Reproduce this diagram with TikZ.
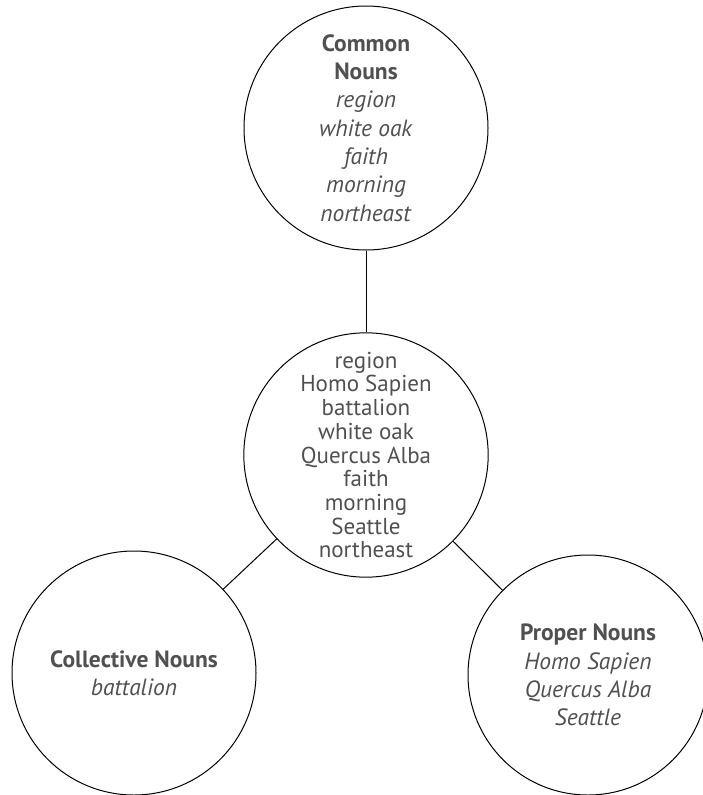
\documentclass[tikz,border=0pt]{standalone}
\usepackage{fontspec}
\setmainfont{PT Sans}
\definecolor{nountext}{HTML}{505050}
\begin{document}
\begin{tikzpicture}[x=1pt, y=-1pt, align=center,
  every node/.style = {shape=circle, draw=black, line width=1pt,
    minimum size=244pt, inner sep=0pt, align=center,
    text=nountext, font=\fontsize{23.5}{28.3}\selectfont},
  allnouns/.style = {font=\fontsize{23}{23.7}\selectfont}, ]
  \useasboundingbox (0,0) rectangle (703,795);
  \clip (0,0) rectangle (703,795);
  \node (common) at (366,128) {\textbf{Common}\\\textbf{Nouns}\\\textit{region}\\\textit{white oak}\\\textit{faith}\\\textit{morning}\\\textit{northeast}};
  \node[allnouns] (all) at (366,455) {region\\Homo Sapien\\battalion\\white oak\\Quercus Alba\\faith\\morning\\Seattle\\northeast};
  \node (collective) at (134,673) {\textbf{Collective Nouns}\\\textit{battalion}};
  \node[minimum size=240pt] (proper) at (588,675) {\textbf{Proper Nouns}\\\textit{Homo Sapien}\\\textit{Quercus Alba}\\\textit{Seattle}};
  \draw[line width=1pt] (common) -- (all);
  \draw[line width=1pt] (all) -- (collective);
  \draw[line width=1pt] (all) -- (proper);
\end{tikzpicture}
\end{document}
